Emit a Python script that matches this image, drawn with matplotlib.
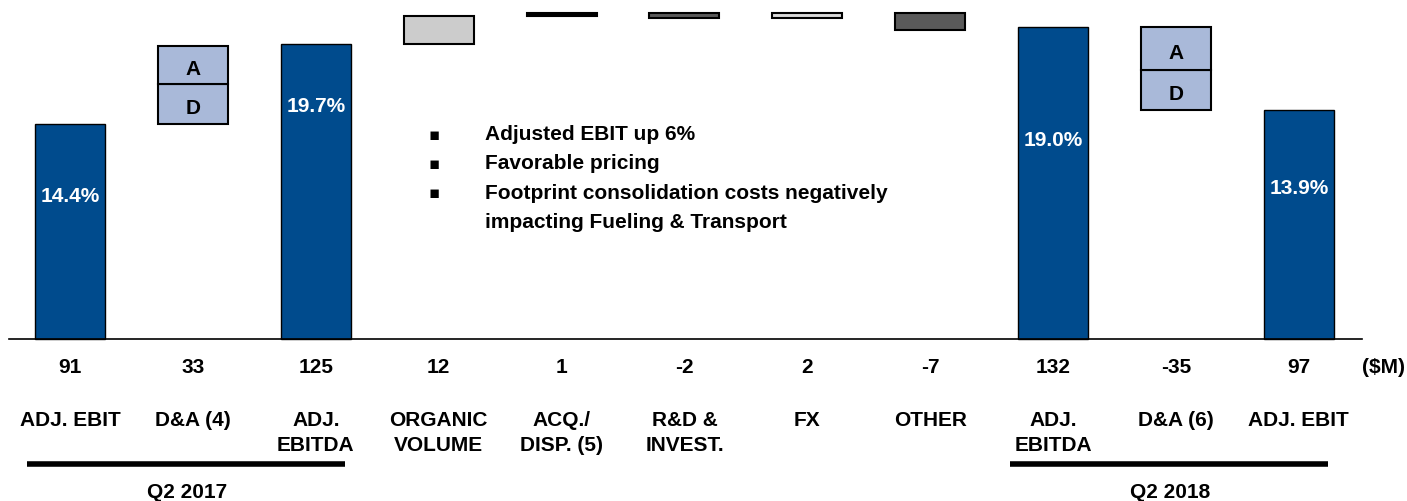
import matplotlib.pyplot as plt

plt.rcParams['font.family'] = ['Liberation Sans', 'DejaVu Sans']
plt.rcParams['font.weight'] = 'bold'

categories = ['ADJ. EBIT', 'D&A (4)', 'ADJ.\nEBITDA', 'ORGANIC\nVOLUME', 'ACQ./\nDISP. (5)',
              'R&D &\nINVEST.', 'FX', 'OTHER', 'ADJ.\nEBITDA', 'D&A (6)', 'ADJ. EBIT']
values = [91, 33, 125, 12, 1, -2, 2, -7, 132, -35, 97]
kinds = ['total', 'da', 'total', 'delta', 'delta', 'delta', 'delta', 'delta', 'total', 'da', 'total']
value_labels = ['91', '33', '125', '12', '1', '-2', '2', '-7', '132', '-35', '97']

# D&A split into depreciation (lower) and amortization (upper)
d_part = [17, 17]
a_part = [16, 18]

margin_labels = ['14.4%', '19.7%', '19.0%', '13.9%']
margin_pos = [0.67, 0.79, 0.64, 0.66]

delta_colors = ['#CCCCCC', '#000000', '#5A5A5A', '#D9D9D9', '#5A5A5A']

bullets = ['Adjusted EBIT up 6%', 'Favorable pricing',
           'Footprint consolidation costs negatively', 'impacting Fueling & Transport']
bullet_marks = [True, True, True, False]

groups = ['Q2 2017', 'Q2 2018']
group_span = [(0, 2), (8, 10)]

blue = '#004B8D'
light_blue = '#A9B9D9'
fs = 15

fig = plt.figure(figsize=(14.07, 5.02), dpi=100)
ax = fig.add_axes([0, 0, 1, 1])
ax.set_xlim(-0.57, 10.88)
ax.set_ylim(-68.6, 144)
ax.set_axis_off()

w = 0.57
level = 0
di = 0
ti = 0
k = 0
for i, (v, kind) in enumerate(zip(values, kinds)):
    if kind == 'total':
        ax.bar(i, v, width=w, color=blue, edgecolor='black', linewidth=1.0)
        ax.text(i, v * margin_pos[ti], margin_labels[ti], color='white', ha='center',
                va='center', fontsize=fs)
        ti += 1
        level = v
    elif kind == 'da':
        lo = level if v > 0 else level + v
        ax.bar(i, d_part[di], bottom=lo, width=w, color=light_blue, edgecolor='black', linewidth=1.5)
        ax.bar(i, a_part[di], bottom=lo + d_part[di], width=w, color=light_blue,
               edgecolor='black', linewidth=1.5)
        ax.text(i, lo + d_part[di] / 2 - 1.5, 'D', ha='center', va='center', fontsize=fs)
        ax.text(i, lo + d_part[di] + a_part[di] / 2 - 1.5, 'A', ha='center', va='center', fontsize=fs)
        di += 1
        level = level + v
    else:
        ax.bar(i, v, bottom=level, width=w, color=delta_colors[k], edgecolor='black', linewidth=1.5)
        k += 1
        level = level + v
    ax.text(i, -11.5, value_labels[i], ha='center', va='center', fontsize=fs)
    ax.text(i, -30.2, categories[i], ha='center', va='top', fontsize=fs, linespacing=1.4)

ax.axhline(0, xmin=9 / 1407, xmax=1362 / 1407, color='black', linewidth=1.2)
ax.text(10.86, -11.5, '($M)', ha='right', va='center', fontsize=fs)

for j, (b, m) in enumerate(zip(bullets, bullet_marks)):
    y = 87 - j * 12.4
    if m:
        ax.text(2.96, y, '\u25aa', ha='center', va='center', fontsize=12,
                family=['DejaVu Sans'])
    ax.text(3.38, y, b, ha='left', va='center', fontsize=fs)

for g, (a, b) in zip(groups, group_span):
    ax.plot([a - 0.35, b + 0.24], [-53, -53], color='black', linewidth=4, solid_capstyle='butt')
    ax.text((a + b) / 2 - 0.05, -64.5, g, ha='center', va='center', fontsize=fs)

fig.savefig('out.png', dpi=100)
